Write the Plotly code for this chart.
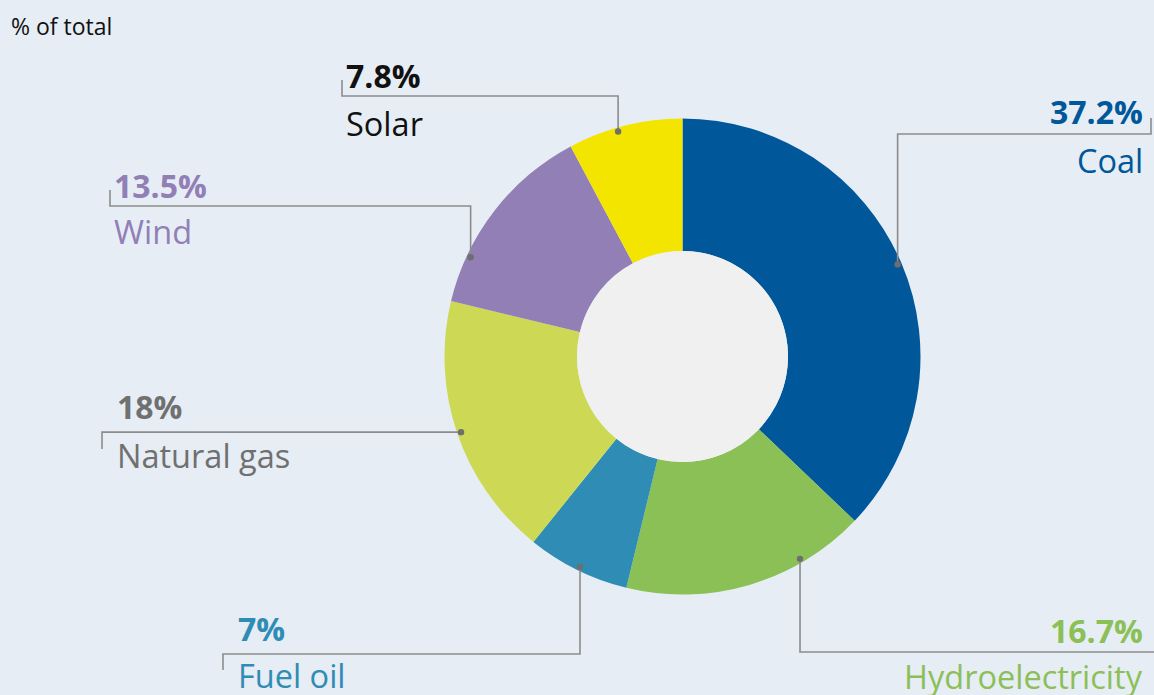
import math
import plotly.graph_objects as go

W, H = 1154, 695

# Share of total by source, clockwise from 12 o'clock
sources = ["Coal", "Hydroelectricity", "Fuel oil", "Natural gas", "Wind", "Solar"]
shares = [37.2, 16.7, 7.0, 18.0, 13.5, 7.8]
pct_labels = ["37.2%", "16.7%", "7%", "18%", "13.5%", "7.8%"]

slice_colors = ["#00579a", "#8bc057", "#2e8cb5", "#cdd954", "#917fb5", "#f3e500"]
text_colors = ["#00579a", "#8bc057", "#2e8cb5", "#707070", "#917fb5", "#111111"]

# Donut geometry in pixels
CX, CY, R_OUT, R_IN = 682.5, 356.5, 238.0, 105.5
R_DOT = 234.0

# Where along each slice the leader line is attached (0 = slice start, 1 = slice end)
attach = [0.5, 0.27, 0.49, 0.5, 0.24, 0.43]

# Leader routing per label: horizontal y, far end x, end-tick y, text side/x, pct y, name y
routes = [
    dict(hy=134, ex=1151, ty=118, side="right", tx=1145, py=112, ny=160),
    dict(hy=652, ex=1154, ty=652, side="right", tx=1145, py=630, ny=676),
    dict(hy=654, ex=223, ty=670, side="left", tx=236, py=628, ny=675),
    dict(hy=None, ex=102, ty=449, side="left", tx=115, py=407, ny=455),
    dict(hy=206, ex=110, ty=190, side="left", tx=112, py=185, ny=232),
    dict(hy=96, ex=342, ty=80, side="left", tx=344, py=75, ny=124),
]


def px(x, y):
    return x / W, 1 - y / H


fig = go.Figure()

x0, y0 = px(CX - R_OUT, CY + R_OUT)
x1, y1 = px(CX + R_OUT, CY - R_OUT)
fig.add_trace(go.Pie(
    labels=sources,
    values=shares,
    sort=False,
    direction="clockwise",
    rotation=0,
    hole=R_IN / R_OUT,
    marker=dict(colors=slice_colors, line=dict(width=0)),
    textinfo="none",
    hoverinfo="label+value",
    showlegend=False,
    domain=dict(x=[x0, x1], y=[y0, y1]),
))

shapes = []
annotations = []

# Light centre disc
hx0, hy0 = px(CX - R_IN, CY + R_IN)
hx1, hy1 = px(CX + R_IN, CY - R_IN)
shapes.append(dict(type="circle", xref="paper", yref="paper", x0=hx0, y0=hy0, x1=hx1, y1=hy1,
                   fillcolor="#f0f0f0", line=dict(width=0), layer="above"))

total = sum(shares)
start = 0.0
for i, v in enumerate(shares):
    span = v / total * 360.0
    ang = math.radians(start + attach[i] * span)
    start += span
    dx = CX + R_DOT * math.sin(ang)
    dy = CY - R_DOT * math.cos(ang)
    rt = routes[i]
    hy = dy if rt["hy"] is None else rt["hy"]
    pts = [(dx, dy), (dx, hy), (rt["ex"], hy), (rt["ex"], rt["ty"])]
    path = "M " + " L ".join("{:.5f},{:.5f}".format(*px(a, b)) for a, b in pts)
    shapes.append(dict(type="path", xref="paper", yref="paper", path=path,
                       line=dict(color="#8c8c8c", width=1.6), layer="above"))
    r = 3.2
    ax0, ay0 = px(dx - r, dy + r)
    ax1, ay1 = px(dx + r, dy - r)
    shapes.append(dict(type="circle", xref="paper", yref="paper", x0=ax0, y0=ay0, x1=ax1, y1=ay1,
                       fillcolor="#6e6e6e", line=dict(width=0), layer="above"))

    tx, _ = px(rt["tx"], 0)
    _, py_ = px(0, rt["py"])
    _, ny_ = px(0, rt["ny"])
    annotations.append(dict(x=tx, y=py_, xref="paper", yref="paper", xanchor=rt["side"], yanchor="middle",
                            text="<b>" + pct_labels[i] + "</b>", showarrow=False,
                            font=dict(family="Open Sans", size=32, color=text_colors[i])))
    annotations.append(dict(x=tx, y=ny_, xref="paper", yref="paper", xanchor=rt["side"], yanchor="middle",
                            text=sources[i], showarrow=False,
                            font=dict(family="Open Sans", size=32.5, color=text_colors[i])))

tx, ty = px(9, 26)
annotations.append(dict(x=tx, y=ty, xref="paper", yref="paper", xanchor="left", yanchor="middle",
                        text="% of total", showarrow=False,
                        font=dict(family="Open Sans", size=23, color="#111111")))

fig.update_layout(
    width=W, height=H,
    margin=dict(l=0, r=0, t=0, b=0),
    paper_bgcolor="#e6edf5",
    plot_bgcolor="#e6edf5",
    shapes=shapes,
    annotations=annotations,
    showlegend=False,
)

fig.write_html("out.html")
